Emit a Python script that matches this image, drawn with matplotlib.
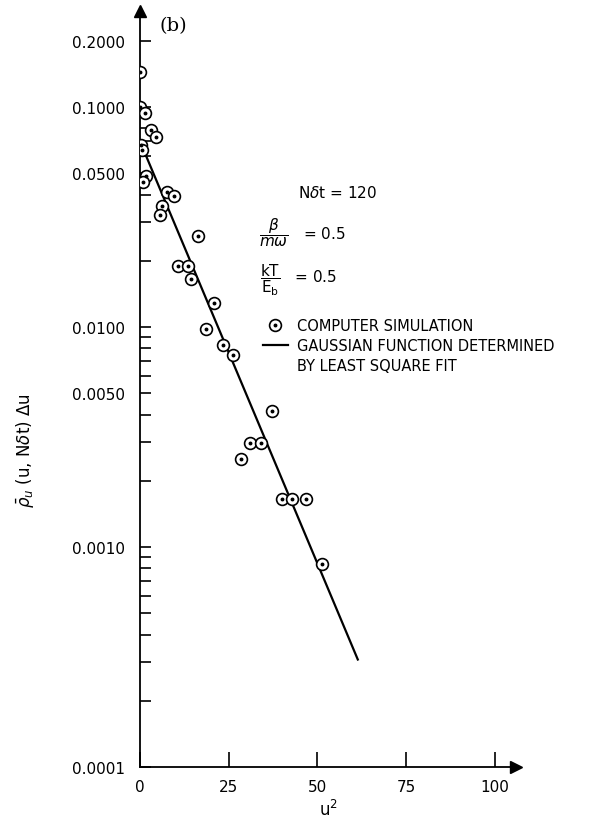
import matplotlib
matplotlib.use('Agg')
import matplotlib.pyplot as plt
from matplotlib.legend_handler import HandlerTuple
from matplotlib.lines import Line2D

# computer simulation points: u^2 against rho_u(u, N dt) du
u2 = [0.0, 0.0, 1.4, 3.1, 4.5, 0.3, 0.7, 1.6, 0.9, 7.5, 9.5, 6.3, 5.5, 16.4,
      10.6, 13.4, 14.4, 20.9, 18.5, 23.4, 26.1, 37.2, 31.0, 34.2, 28.6,
      39.9, 42.8, 46.8, 51.2]
prob = [0.144, 0.100, 0.094, 0.0786, 0.073, 0.0672, 0.0638, 0.0486, 0.0456,
        0.0411, 0.0394, 0.0355, 0.0323, 0.0259, 0.0190, 0.0190, 0.0166,
        0.0129, 0.0098, 0.00824, 0.00748, 0.00417, 0.00297, 0.00297,
        0.00250, 0.00166, 0.00166, 0.00166, 0.000833]

# least square gaussian fit (a straight line on the log axis)
fit_u2 = [0.3, 61.4]
fit_prob = [0.0679, 0.000308]

xticks = [0, 25, 50, 75, 100]
yticks = [0.0001, 0.001, 0.005, 0.01, 0.05, 0.1, 0.2]
ytick_labels = ['0.0001', '0.0010', '0.0050', '0.0100', '0.0500', '0.1000', '0.2000']

fig = plt.figure(figsize=(5.97, 8.2), dpi=100)
ax = fig.add_axes([140 / 597, 52 / 820, 376 / 597, 756 / 820])

ax.set_yscale('log')
ax.set_xlim(0, 106)
ax.set_ylim(1e-4, 0.273)

line, = ax.plot(fit_u2, fit_prob, color='k', lw=1.6, zorder=2)
circ, = ax.plot(u2, prob, ls='none', marker='o', ms=8.5, mfc='white',
                mec='k', mew=1.2, zorder=3)
dot, = ax.plot(u2, prob, ls='none', marker='o', ms=1.8, color='k', zorder=4)

for side in ['top', 'right']:
    ax.spines[side].set_visible(False)
for side in ['left', 'bottom']:
    ax.spines[side].set_linewidth(1.3)

# arrow heads at the ends of the axes
ax.plot(1, 0, marker='>', ms=8, color='k', transform=ax.transAxes, clip_on=False)
ax.plot(0, 1, marker='^', ms=8, color='k', transform=ax.transAxes, clip_on=False)

minor = [k * 10.0 ** n for n in range(-4, 0) for k in range(2, 10)]
minor = [m for m in minor if m < 0.2 and all(abs(m - t) > 1e-9 for t in yticks)]

ax.set_xticks(xticks)
ax.set_xticklabels([str(t) for t in xticks])
ax.set_yticks(yticks)
ax.set_yticklabels(ytick_labels)
ax.set_yticks(minor, minor=True)
ax.yaxis.set_minor_formatter(plt.NullFormatter())

ax.tick_params(axis='x', direction='in', length=11, width=1.2, pad=9, labelsize=11)
ax.tick_params(axis='y', which='both', direction='in', length=8, width=1.2,
               pad=11, labelsize=11)

ax.set_xlabel('u$^2$', fontsize=12, labelpad=3)
fig.text(25 / 597, 1 - 451 / 820, r'$\bar{\rho}_u$ (u, N$\delta$t) $\Delta$u',
         rotation=90, ha='center', va='center', fontsize=12)

ax.text(9.3, 0.236, '(b)', family='DejaVu Serif', fontsize=14,
        ha='center', va='center')

ax.text(44.5, 0.0411, r'N$\delta$t = 120', fontsize=11, va='center')
ax.text(33.5, 0.027, r'$\dfrac{\beta}{m\omega}$   = 0.5', fontsize=11, va='center')
ax.text(33.8, 0.0165, r'$\dfrac{\mathrm{kT}}{\mathrm{E}_\mathrm{b}}$   = 0.5',
        fontsize=11, va='center')

# third legend row carries the second line of the fit label
blank = Line2D([], [], color='none')
ax.legend([(circ, dot), line, blank],
          ['COMPUTER SIMULATION', 'GAUSSIAN FUNCTION DETERMINED', 'BY LEAST SQUARE FIT'],
          handler_map={tuple: HandlerTuple(ndivide=1)},
          loc='upper left', bbox_to_anchor=(263 / 597, 1 - 319 / 820),
          bbox_transform=fig.transFigure, frameon=False, fontsize=10.5,
          handlelength=1.7, handletextpad=0.6, borderpad=0, borderaxespad=0,
          labelspacing=0.35, numpoints=1)

fig.savefig('out.png', dpi=100)
